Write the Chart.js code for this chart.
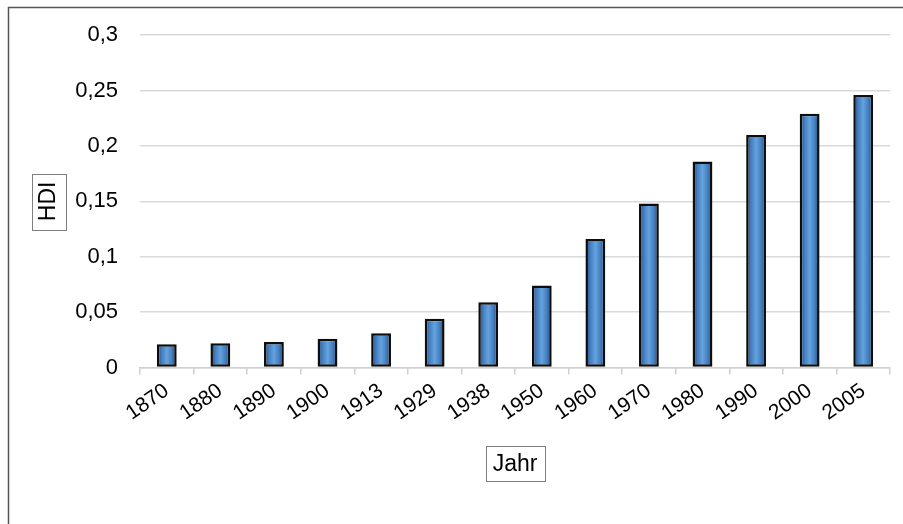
<!DOCTYPE html>
<html>
<head>
<meta charset="utf-8">
<script src="https://cdn.jsdelivr.net/npm/chart.js@4.4.1/dist/chart.umd.min.js"></script>
<style>
    html, body { margin: 0; padding: 0; background: #fff; }
    #wrap { width: 903px; height: 524px; position: relative; }
</style>
</head>
<body>
<div id="wrap"><canvas id="hdiChart"></canvas></div>
<script>
const years = ['1870', '1880', '1890', '1900', '1913', '1929', '1938', '1950', '1960', '1970', '1980', '1990', '2000', '2005'];
const hdiValues = [0.021, 0.022, 0.023, 0.026, 0.031, 0.044, 0.059, 0.074, 0.116, 0.148, 0.186, 0.210, 0.229, 0.246];
const yTicks = [0, 0.05, 0.1, 0.15, 0.2, 0.25, 0.3];
const xTitle = 'Jahr';
const yTitle = 'HDI';

const FONT = "'Liberation Sans', Arial, sans-serif";

const barFill = (ctx) => {
    const chart = ctx.chart;
    const xScale = chart.scales.x;
    if (!chart.chartArea || !xScale) return '#4f86c6';
    const cx = xScale.getPixelForValue(ctx.dataIndex);
    const g = chart.ctx.createLinearGradient(cx - 10, 0, cx + 10, 0);
    g.addColorStop(0, '#1f4573');
    g.addColorStop(0.25, '#447fc0');
    g.addColorStop(0.5, '#65a2df');
    g.addColorStop(0.75, '#447fc0');
    g.addColorStop(1, '#1e436f');
    return g;
};

// frame of the chart and boxes around axis titles
const framePlugin = {
    id: 'frame',
    afterDraw(chart) {
        const c = chart.ctx;
        c.save();
        c.strokeStyle = '#555';
        c.lineWidth = 1.5;
        c.beginPath();
        c.moveTo(8.5, 524);
        c.lineTo(8.5, 7.5);
        c.lineTo(903, 7.5);
        c.stroke();

        c.font = '23px ' + FONT;
        c.strokeStyle = '#7f7f7f';
        c.lineWidth = 1;
        const xs = chart.scales.x;
        const ys = chart.scales.y;

        const wx = c.measureText(xTitle).width + 14;
        const cxX = (xs.left + xs.right) / 2;
        const cyX = 463.5;
        c.strokeRect(Math.round(cxX - wx / 2) + 0.5, Math.round(cyX - 17.5) + 0.5, Math.round(wx), 35);

        const wy = c.measureText(yTitle).width + 16;
        const cxY = 49;
        const cyY = (ys.top + ys.bottom) / 2;
        c.strokeRect(Math.round(cxY - 17) + 0.5, Math.round(cyY - wy / 2) + 0.5, 34, Math.round(wy));
        c.restore();
    }
};

new Chart(document.getElementById('hdiChart'), {
    type: 'bar',
    data: {
        labels: years,
        datasets: [{
            label: yTitle,
            data: hdiValues,
            backgroundColor: barFill,
            borderColor: '#0d0d0d',
            borderWidth: 2.5,
            borderSkipped: false,
            categoryPercentage: 1,
            barPercentage: 0.37
        }]
    },
    options: {
        responsive: true,
        maintainAspectRatio: false,
        animation: false,
        layout: { padding: { top: 33, right: 13, bottom: 0, left: 0 } },
        plugins: { legend: { display: false }, tooltip: { enabled: false } },
        scales: {
            x: {
                afterFit: (scale) => { scale.height = 156.5; },
                grid: { display: true, drawOnChartArea: false, drawTicks: true, tickLength: 7, color: '#d0d0d0', lineWidth: 1.5, offset: true },
                border: { display: true, color: '#d0d0d0', width: 1.5 },
                ticks: {
                    color: '#000',
                    font: { family: FONT, size: 21 },
                    minRotation: 35,
                    maxRotation: 35,
                    padding: 4
                },
                title: {
                    display: true,
                    text: xTitle,
                    color: '#000',
                    font: { family: FONT, size: 23 },
                    padding: { top: 0, bottom: 46 }
                }
            },
            y: {
                min: 0,
                max: 0.3,
                afterFit: (scale) => { scale.width = 140; },
                afterBuildTicks: (scale) => { scale.ticks = yTicks.map(v => ({ value: v })); },
                grid: { color: '#d9d9d9', lineWidth: 1.5, drawTicks: false },
                border: { display: false },
                ticks: {
                    color: '#000',
                    font: { family: FONT, size: 22 },
                    padding: 22,
                    callback: (v) => String(Number(v.toFixed(2))).replace('.', ',')
                },
                title: {
                    display: true,
                    text: yTitle,
                    color: '#000',
                    font: { family: FONT, size: 23 },
                    padding: { top: 35, bottom: 0 }
                }
            }
        }
    },
    plugins: [framePlugin]
});
</script>
</body>
</html>
